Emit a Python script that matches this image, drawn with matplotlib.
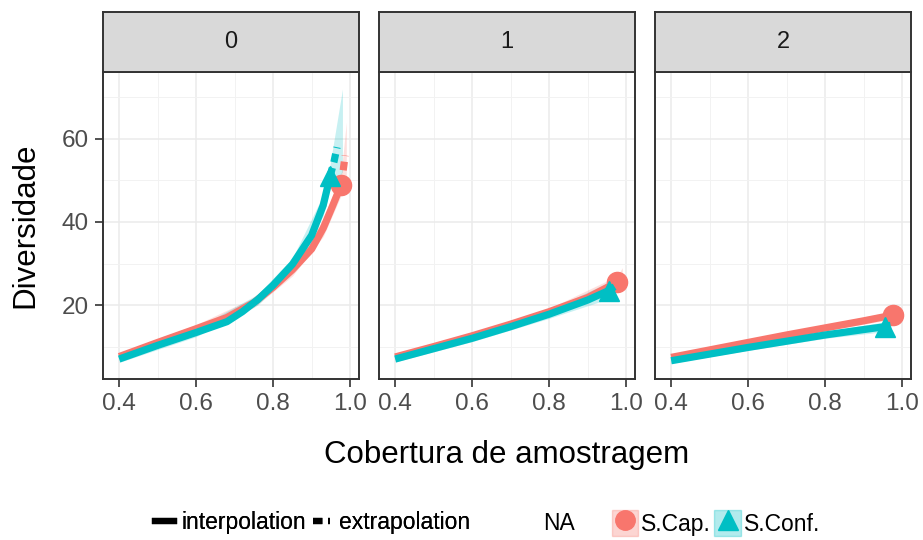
import matplotlib
matplotlib.use("Agg")
import matplotlib.pyplot as plt
from matplotlib.lines import Line2D
from matplotlib.patches import Patch
from matplotlib.ticker import MultipleLocator

plt.rcParams['font.family'] = ['Liberation Sans', 'DejaVu Sans']

# facet labels (order q)
orders = ['0', '1', '2']
sites = ['S.Cap.', 'S.Conf.']
colors = ['#F8766D', '#00BFC4']
markers = ['o', '^']

# interpolated curves (sample coverage, diversity), one list per order
cap_cov = [[0.40, 0.50, 0.60, 0.68, 0.75, 0.80, 0.85, 0.90, 0.93, 0.955, 0.977],
           [0.40, 0.50, 0.60, 0.70, 0.80, 0.90, 0.977],
           [0.40, 0.50, 0.60, 0.70, 0.80, 0.90, 0.977]]
cap_div = [[7.6, 11.0, 14.3, 17.0, 20.6, 24.3, 28.5, 33.5, 38.5, 44.0, 49.0],
           [7.5, 10.0, 12.6, 15.4, 18.4, 21.8, 25.5],
           [7.4, 9.2, 11.0, 12.8, 14.5, 16.2, 17.6]]
conf_cov = [[0.40, 0.50, 0.60, 0.68, 0.72, 0.76, 0.80, 0.85, 0.90, 0.93, 0.948],
            [0.40, 0.50, 0.60, 0.70, 0.80, 0.90, 0.955],
            [0.40, 0.50, 0.60, 0.70, 0.80, 0.90, 0.956]]
conf_div = [[7.0, 10.3, 13.4, 16.0, 18.4, 21.3, 24.8, 29.8, 36.8, 44.0, 51.0],
            [7.0, 9.5, 12.0, 14.8, 17.8, 21.2, 23.5],
            [6.6, 8.2, 9.8, 11.3, 12.8, 14.1, 14.8]]

# extrapolated curves
cap_ext_cov = [[0.977, 0.982, 0.987], [0.977, 0.983, 0.988], [0.977, 0.983, 0.988]]
cap_ext_div = [[49.0, 52.5, 56.0], [25.5, 26.2, 26.8], [17.6, 17.9, 18.1]]
conf_ext_cov = [[0.948, 0.958, 0.966], [0.955, 0.963, 0.970], [0.956, 0.963, 0.970]]
conf_ext_div = [[51.0, 54.5, 58.0], [23.5, 24.0, 24.4], [14.8, 15.0, 15.1]]

# confidence bands (coverage, lower, upper) over the whole curve
cap_band_cov = [[0.40, 0.60, 0.75, 0.85, 0.93, 0.977, 0.990],
                [0.40, 0.60, 0.80, 0.977, 0.990],
                [0.40, 0.60, 0.80, 0.977, 0.990]]
cap_band_lo = [[6.8, 13.3, 19.4, 27.0, 36.5, 46.5, 50.0],
               [6.9, 11.9, 17.6, 24.2, 25.0],
               [6.8, 10.4, 13.8, 16.6, 16.8]]
cap_band_hi = [[8.4, 15.3, 21.8, 30.0, 40.5, 52.0, 64.0],
               [8.1, 13.3, 19.2, 27.0, 29.0],
               [8.0, 11.6, 15.2, 18.6, 19.4]]
conf_band_cov = [[0.40, 0.60, 0.76, 0.85, 0.93, 0.948, 0.980],
                 [0.40, 0.60, 0.80, 0.955, 0.972],
                 [0.40, 0.60, 0.80, 0.956, 0.972]]
conf_band_lo = [[6.2, 12.4, 20.0, 28.3, 41.5, 48.0, 52.0],
                [6.3, 11.2, 16.8, 21.5, 21.8],
                [6.0, 9.1, 12.0, 13.6, 13.6]]
conf_band_hi = [[7.8, 14.4, 22.6, 31.3, 46.5, 54.0, 72.0],
                [7.7, 12.8, 18.8, 25.5, 27.5],
                [7.2, 10.5, 13.6, 16.0, 16.8]]

W, H = 923, 540
fig = plt.figure(figsize=(W / 100, H / 100), dpi=100)

panel_left = [103, 379, 655]
panel_w = 256
panel_top, panel_bot = 72, 379
strip_top = 12

curves = [
    (cap_cov, cap_div, cap_ext_cov, cap_ext_div, cap_band_cov, cap_band_lo, cap_band_hi),
    (conf_cov, conf_div, conf_ext_cov, conf_ext_div, conf_band_cov, conf_band_lo, conf_band_hi),
]

for i, q in enumerate(orders):
    x0 = panel_left[i] / W
    ax = fig.add_axes([x0, 1 - panel_bot / H, panel_w / W, (panel_bot - panel_top) / H])
    ax.set_facecolor('white')
    for k, (cv, dv, ecv, edv, bcv, blo, bhi) in enumerate(curves):
        ax.fill_between(bcv[i], blo[i], bhi[i], color=colors[k], alpha=0.22, lw=0)
        ax.plot(cv[i], dv[i], color=colors[k], lw=5.2, solid_capstyle='butt',
                solid_joinstyle='round')
        ax.plot(ecv[i], edv[i], color=colors[k], lw=5.2, ls=(0, (1.2, 0.8)))
        ax.plot(cv[i][-1], dv[i][-1], marker=markers[k], color=colors[k],
                markersize=14.5, ls='none')
    ax.set_xlim(0.358, 1.023)
    ax.set_ylim(2.2, 76.1)
    ax.xaxis.set_minor_locator(MultipleLocator(0.1))
    ax.yaxis.set_minor_locator(MultipleLocator(10))
    ax.set_xticks([0.4, 0.6, 0.8, 1.0])
    ax.set_xticklabels(['0.4', '0.6', '0.8', '1.0'])
    ax.set_yticks([20, 40, 60])
    ax.grid(which='major', color='#EBEBEB', lw=1.1)
    ax.grid(which='minor', color='#F2F2F2', lw=0.7)
    ax.set_axisbelow(True)
    for s in ax.spines.values():
        s.set_color('#333333')
        s.set_linewidth(1.4)
    ax.tick_params(which='major', length=6, width=1.2, color='#333333',
                   labelsize=17.5, labelcolor='#4D4D4D', pad=4)
    ax.tick_params(which='minor', length=0)
    if i > 0:
        ax.tick_params(axis='y', which='both', left=False, labelleft=False)

    # facet strip
    sax = fig.add_axes([x0, 1 - panel_top / H, panel_w / W, (panel_top - strip_top) / H])
    sax.set_facecolor('#D9D9D9')
    sax.set_xticks([])
    sax.set_yticks([])
    for s in sax.spines.values():
        s.set_color('#333333')
        s.set_linewidth(1.4)
    sax.text(0.5, 0.5, q, ha='center', va='center', fontsize=17, color='#1A1A1A',
             transform=sax.transAxes)

fig.text(507 / W, 1 - 455 / H, 'Cobertura de amostragem', ha='center', va='center',
         fontsize=22.5)
fig.text(25 / W, 1 - 225 / H, 'Diversidade', ha='center', va='center',
         fontsize=22.5, rotation=90)

# linetype legend
lt_handles = [Line2D([], [], color='black', lw=4.5),
              Line2D([], [], color='black', lw=4.5, ls=(0, (1.5, 0.9, 0.3, 1.5)))]
leg1 = fig.legend(lt_handles, ['interpolation', 'extrapolation'], loc='center left',
                  bbox_to_anchor=(155 / W, 1 - 523 / H), ncol=2, frameon=False,
                  fontsize=16.5, handlelength=0.85, handletextpad=0.3,
                  columnspacing=0.3, borderpad=0, borderaxespad=0)
fig.add_artist(leg1)

fig.text(559 / W, 1 - 523 / H, 'NA', ha='center', va='center', fontsize=16.5)

# site legend
site_handles = []
for k in range(2):
    site_handles.append((Patch(facecolor=colors[k], alpha=0.3, edgecolor=colors[k]),
                         Line2D([], [], marker=markers[k], color=colors[k],
                                markersize=14, ls='none')))
leg3 = fig.legend(site_handles, sites, loc='center left',
                  bbox_to_anchor=(612 / W, 1 - 523 / H), ncol=2, frameon=False,
                  fontsize=16.5, handlelength=1.15, handleheight=1.4,
                  handletextpad=0.12, columnspacing=0.15, borderpad=0, borderaxespad=0)

fig.savefig('out.png', dpi=100, facecolor='white')
